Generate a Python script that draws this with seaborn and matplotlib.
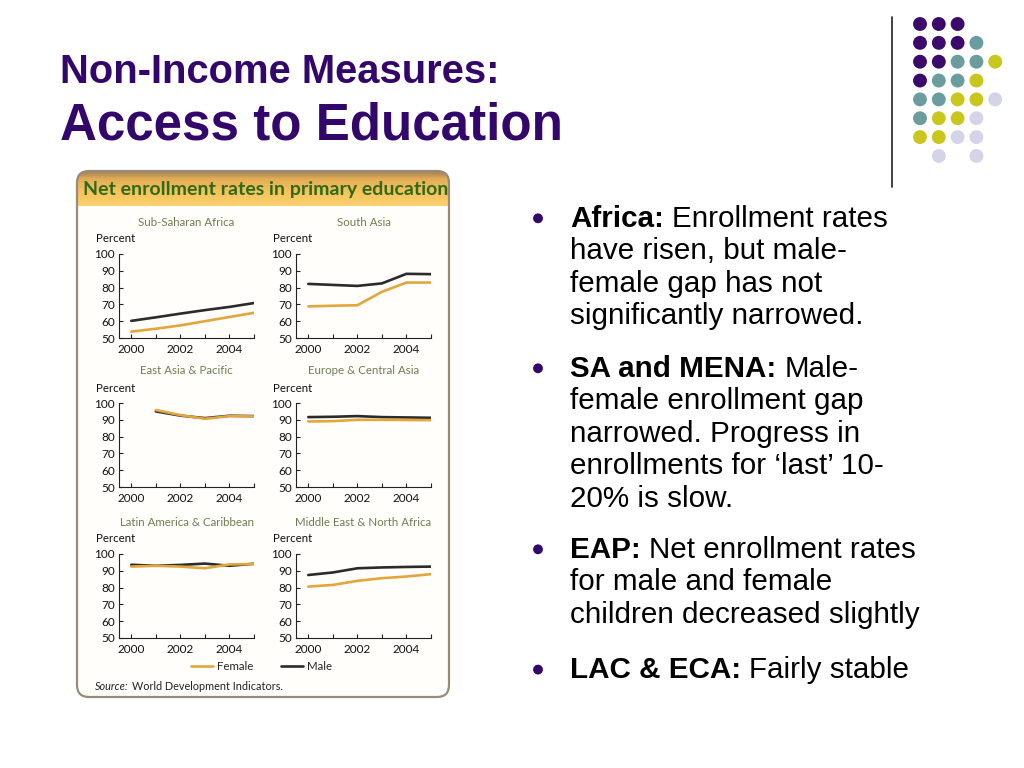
import numpy as np
import pandas as pd
import matplotlib
matplotlib.use("Agg")
import matplotlib.pyplot as plt
import seaborn as sns
from matplotlib.patches import FancyBboxPatch, Circle
from matplotlib.lines import Line2D
from matplotlib.colors import LinearSegmentedColormap

# ---------------- data ----------------
years = [2000, 2001, 2002, 2003, 2004, 2005]
regions = ["Sub-Saharan Africa", "South Asia", "East Asia & Pacific",
           "Europe & Central Asia", "Latin America & Caribbean",
           "Middle East & North Africa"]
nan = np.nan
ssa_female = [53.8, 55.5, 57.5, 60.0, 62.5, 65.0]
ssa_male = [60.2, 62.3, 64.5, 66.6, 68.5, 70.8]
sa_female = [68.8, 69.2, 69.5, 77.5, 83.0, 83.0]
sa_male = [82.2, 81.6, 81.0, 82.5, 88.2, 88.0]
eap_female = [nan, 95.8, 92.8, 90.6, 92.2, 92.0]
eap_male = [nan, 95.0, 92.5, 91.0, 92.4, 92.2]
eca_female = [89.0, 89.2, 90.0, 90.0, 89.9, 89.8]
eca_male = [91.6, 91.8, 92.2, 91.6, 91.4, 91.2]
lac_female = [92.5, 93.0, 92.5, 91.5, 93.8, 94.0]
lac_male = [93.6, 93.0, 93.5, 94.3, 93.0, 94.2]
mena_female = [80.6, 81.6, 84.0, 85.6, 86.6, 88.0]
mena_male = [87.5, 89.0, 91.5, 92.0, 92.3, 92.5]
female_series = [ssa_female, sa_female, eap_female, eca_female, lac_female, mena_female]
male_series = [ssa_male, sa_male, eap_male, eca_male, lac_male, mena_male]

y_ticks = [50, 60, 70, 80, 90, 100]
x_tick_labels = ["2000", "", "2002", "", "2004", ""]

title_line1 = "Non-Income Measures:"
title_line2 = "Access to Education"
panel_header = "Net enrollment rates in primary education"
legend_labels = ["Female", "Male"]
source_head = "Source:"
source_rest = "World Development Indicators."

bullet_heads = ["Africa:", "SA and MENA:", "EAP:", "LAC & ECA:"]
bullet_lines = [
    ["Enrollment rates", "have risen, but male-", "female gap has not",
     "significantly narrowed."],
    ["Male-", "female enrollment gap", "narrowed. Progress in",
     "enrollments for \u2018last\u2019 10-", "20% is slow."],
    ["Net enrollment rates", "for male and female", "children decreased slightly"],
    ["Fairly stable"],
]
dot_rows = ["PPP..", "PPPT.", "PPTTY", "PTTY.", "TTYYL", "TYYL.", "YYLL.", ".L.L."]

# ---------------- style ----------------
sns.set_theme(style="ticks")
plt.rcParams["font.family"] = ["Lato", "DejaVu Sans"]

PURPLE = "#33066b"
FEMALE = "#e3a63c"
MALE = "#2b2b2b"
dot_colors = {"P": "#3b0a6b", "T": "#6b9c9e", "Y": "#c9c71e", "L": "#d4d4e9"}

W, H = 1024, 768
fig = plt.figure(figsize=(W / 100, H / 100), dpi=100)
fig.patch.set_facecolor("white")
bg = fig.add_axes([0, 0, 1, 1], zorder=0)
bg.set_xlim(0, W)
bg.set_ylim(H, 0)
bg.axis("off")
r = fig.canvas.get_renderer()

def width_of(t):
    return t.get_window_extent(renderer=r).width

# ---------------- title ----------------
bg.text(60, 83.3, title_line1, fontsize=28.8, weight="bold", color=PURPLE,
        family="Liberation Sans", va="baseline", ha="left")
bg.text(60, 140, title_line2, fontsize=36.8, weight="bold", color=PURPLE,
        family="Liberation Sans", va="baseline", ha="left")

# ---------------- decorative dots ----------------
dx, dy, x0, y0 = 18.8, 18.85, 920, 24
xs, ys, cs = [], [], []
for ri, row in enumerate(dot_rows):
    for ci, ch in enumerate(row):
        if ch != ".":
            xs.append(x0 + ci * dx)
            ys.append(y0 + ri * dy)
            cs.append(dot_colors[ch])
bg.scatter(xs, ys, s=100, c=cs, linewidths=0, zorder=2)
bg.plot([892, 892], [17, 187], color="#333333", lw=1.3, zorder=2)

# ---------------- panel ----------------
px, py, pw, ph = 77, 171, 372, 526
panel = FancyBboxPatch((px, py), pw, ph, boxstyle="round,pad=0,rounding_size=12",
                       fc="#fffefb", ec="none", zorder=0.5)
bg.add_patch(panel)
cmap = LinearSegmentedColormap.from_list(
    "hdr", [(0, "#9f7f55"), (0.22, "#e2ad56"), (0.6, "#f5c35a"), (1, "#fbd070")])
grad = np.linspace(0, 1, 60)[:, None]
im = bg.imshow(grad, cmap=cmap, extent=(px, px + pw, 206, py), aspect="auto",
               zorder=1, interpolation="bilinear")
im.set_clip_path(panel)
border = FancyBboxPatch((px, py), pw, ph, boxstyle="round,pad=0,rounding_size=12",
                        fc="none", ec="#9a8b78", lw=1.6, zorder=3)
bg.add_patch(border)
bg.set_xlim(0, W)
bg.set_ylim(H, 0)

ht = bg.text(83, 190, panel_header, fontsize=13, weight="bold", color="#2f6a1c",
             va="center", ha="left", family="Lato", zorder=4)
ht.set_fontsize(13 * 363 / width_of(ht))

# ---------------- small multiples ----------------
lefts = [119, 296]
tops = [254, 403, 554]
aw, ah = 135, 84
for i, reg in enumerate(regions):
    col, row = i % 2, i // 2
    l, t = lefts[col], tops[row]
    ax = fig.add_axes([l / W, 1 - (t + ah) / H, aw / W, ah / H], zorder=1)
    ax.patch.set_alpha(0)
    df = pd.DataFrame({
        "year": years * 2,
        "rate": list(male_series[i]) + list(female_series[i]),
        "sex": ["Male"] * len(years) + ["Female"] * len(years),
    }).dropna()
    sns.lineplot(data=df, x="year", y="rate", hue="sex", hue_order=["Male", "Female"],
                 palette={"Male": MALE, "Female": FEMALE}, linewidth=1.9,
                 legend=False, ax=ax)
    ax.set_xlim(1999.5, 2005)
    ax.set_ylim(50, 100)
    ax.set_xticks(years)
    ax.set_xticklabels(x_tick_labels)
    ax.set_yticks(y_ticks)
    ax.set_xlabel("")
    ax.set_ylabel("")
    for s in ["top", "right"]:
        ax.spines[s].set_visible(False)
    for s in ["left", "bottom"]:
        ax.spines[s].set_color("#222222")
        ax.spines[s].set_linewidth(0.8)
    ax.tick_params(direction="in", length=3, width=0.8, colors="#222222",
                   labelsize=8.5, labelcolor="#111111")
    ax.tick_params(axis="y", pad=3)
    ax.tick_params(axis="x", pad=4)
    bg.text(l + aw / 2, t - 32, reg, ha="center", va="center", fontsize=8.3,
            color="#6f7d52", family="Lato")
    bg.text(l - 23, t - 15, "Percent", ha="left", va="center", fontsize=8.3,
            color="#111111", family="Lato")

handles = [Line2D([], [], color=FEMALE, lw=1.9), Line2D([], [], color=MALE, lw=1.9)]
fig.legend(handles, legend_labels, loc="center", bbox_to_anchor=(262 / W, 1 - 667 / H),
           ncol=2, frameon=False, fontsize=8.3, handlelength=1.9, handletextpad=0.35,
           columnspacing=2.4, borderaxespad=0, borderpad=0)

st = bg.text(95, 687, source_head, fontsize=7.8, style="italic", color="#222222",
             va="center", ha="left", family="Lato", zorder=4)
sp = bg.text(95 + width_of(st) + 3, 687, source_rest, fontsize=7.8, color="#222222",
             va="center", ha="left", family="Lato", zorder=4)

# ---------------- bullets ----------------
FS = 21.35
fam = "Liberation Sans"
probe1 = bg.text(0, -100, "aa", fontsize=FS, family=fam)
probe2 = bg.text(0, -100, "a a", fontsize=FS, family=fam)
space_w = width_of(probe2) - width_of(probe1)
probe1.remove()
probe2.remove()

first_baselines = [227, 377, 558, 678.3]
line_step = 32.4
tx = 570
for head, lines, b0 in zip(bullet_heads, bullet_lines, first_baselines):
    bg.add_patch(Circle((538, b0 - 8.7), 4.2, color=PURPLE, zorder=4))
    for j, ln in enumerate(lines):
        y = b0 + j * line_step
        x = tx
        if j == 0:
            hb = bg.text(x, y, head, fontsize=FS, weight="bold", family=fam,
                         color="black", va="baseline", ha="left")
            x += width_of(hb) + space_w
        bg.text(x, y, ln, fontsize=FS, family=fam, color="black",
                va="baseline", ha="left")

fig.savefig("out.png", dpi=100)
